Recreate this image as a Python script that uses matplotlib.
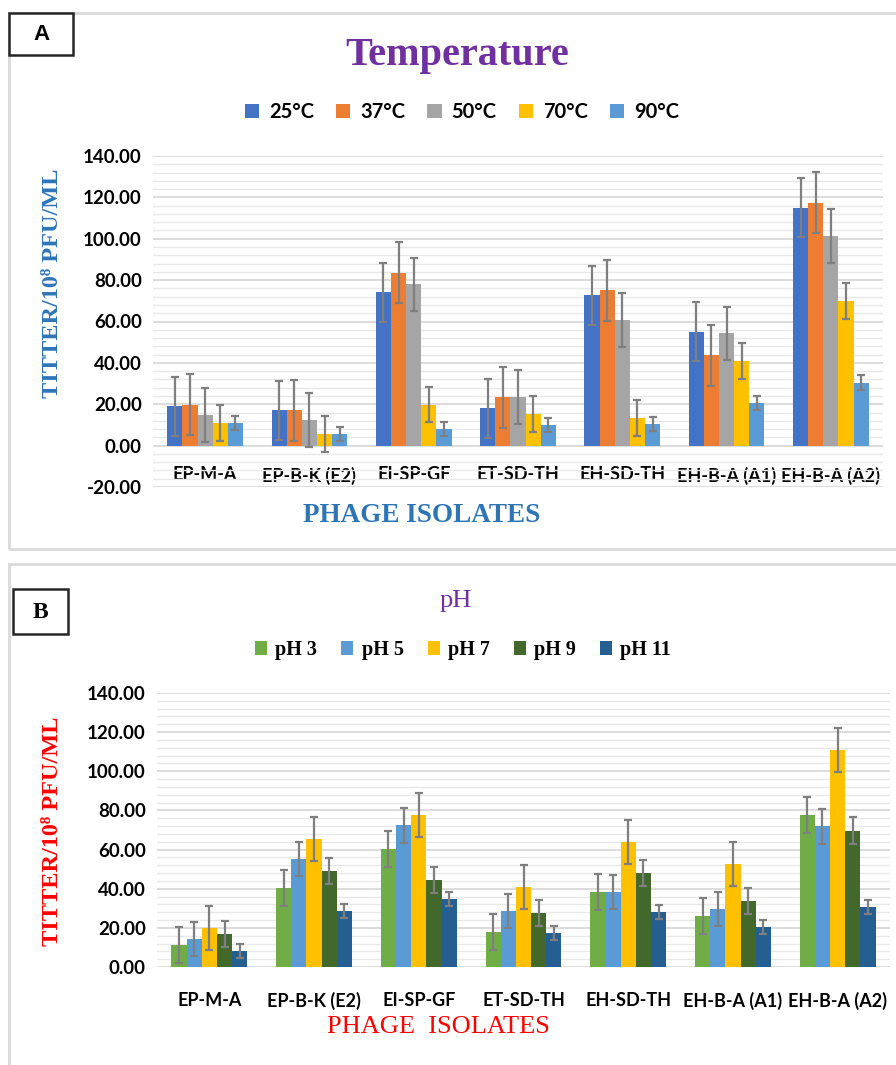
import numpy as np
from matplotlib import pyplot as plt
from matplotlib.ticker import MultipleLocator, FormatStrFormatter
from matplotlib.patches import Rectangle

# Data
isolates = ['EP-M-A', 'EP-B-K (E2)', 'EI-SP-GF', 'ET-SD-TH', 'EH-SD-TH', 'EH-B-A (A1)', 'EH-B-A (A2)']

temp_labels = ['25°C', '37°C', '50°C', '70°C', '90°C']
t25 = [19.0, 17.1, 74.2, 18.1, 72.7, 55.0, 115.0]
t37 = [19.8, 17.1, 83.5, 23.4, 75.0, 43.7, 117.4]
t50 = [14.7, 12.3, 77.9, 23.4, 60.8, 54.2, 101.3]
t70 = [11.0, 5.6, 19.8, 15.3, 13.4, 41.0, 69.8]
t90 = [11.0, 5.6, 8.1, 10.0, 10.5, 20.5, 30.5]
temp_err = [14.3, 14.7, 13.0, 8.6, 3.5]

ph_labels = ['pH 3', 'pH 5', 'pH 7', 'pH 9', 'pH 11']
ph3 = [11.1, 40.6, 60.5, 18.0, 38.1, 26.0, 77.6]
ph5 = [14.5, 55.1, 72.3, 28.7, 38.1, 29.6, 71.8]
ph7 = [19.9, 65.6, 77.6, 41.0, 63.9, 52.7, 110.7]
ph9 = [17.0, 49.1, 44.6, 27.6, 48.1, 33.7, 69.7]
ph11 = [8.0, 28.7, 34.7, 17.5, 28.1, 20.4, 30.6]
ph_err = [9.2, 8.7, 11.2, 6.7, 3.6]

temp_colors = ['#4472C4', '#ED7D31', '#A5A5A5', '#FFC000', '#5B9BD5']
ph_colors = ['#70AD47', '#5B9BD5', '#FFC000', '#43682B', '#255E91']

W, H = 896, 1065
fig = plt.figure(figsize=(W / 100, H / 100), dpi=100)


def fx(px):
    return px / W


def fy(py):
    return 1 - py / H


def bar_panel(ax, series, errs, colors, labels, ymin):
    x = np.arange(len(isolates))
    bw = 0.145
    handles = []
    for i, vals in enumerate(series):
        pos = x + (i - 2) * bw
        b = ax.bar(pos, vals, bw, color=colors[i], label=labels[i], zorder=3)
        ax.errorbar(pos, vals, yerr=errs[i], fmt='none', ecolor='#7F7F7F',
                    elinewidth=1.6, capsize=3, capthick=1.6, zorder=4)
        handles.append(b)
    ax.set_xlim(-0.5, len(isolates) - 0.5)
    ax.set_ylim(ymin, 140)
    ax.yaxis.set_major_locator(MultipleLocator(20))
    ax.yaxis.set_minor_locator(MultipleLocator(4))
    ax.yaxis.set_major_formatter(FormatStrFormatter('%.2f'))
    ax.grid(which='major', axis='y', color='#D9D9D9', lw=1.3, zorder=0)
    ax.grid(which='minor', axis='y', color='#E8E8E8', lw=1.0, zorder=0)
    for s in ax.spines.values():
        s.set_visible(False)
    ax.spines['bottom'].set_position(('data', 0))
    ax.set_xticks(x)
    ax.set_xticklabels(isolates, fontfamily='Lato', fontweight='bold', fontsize=13)
    ax.tick_params(axis='x', length=0, pad=15 if ymin < 0 else 18)
    ax.tick_params(axis='y', which='both', length=0, pad=8)
    for t in ax.get_yticklabels():
        t.set_fontfamily('Lato')
        t.set_fontweight('bold')
        t.set_fontsize(13.5)
    return handles


# Panel frames
fig.patches.append(Rectangle((fx(9), fy(549)), fx(900) - fx(9), fy(13) - fy(549),
                             transform=fig.transFigure, fill=False, ec='#D9D9D9', lw=2))
fig.patches.append(Rectangle((fx(9), fy(1075)), fx(900) - fx(9), fy(564) - fy(1075),
                             transform=fig.transFigure, fill=False, ec='#D9D9D9', lw=2))

# Panel A - temperature
axA = fig.add_axes([fx(153), fy(487), fx(883) - fx(153), fy(156) - fy(487)])
hA = bar_panel(axA, [t25, t37, t50, t70, t90], temp_err, temp_colors, temp_labels, -20)
fig.patches.append(Rectangle((fx(9), fy(55)), fx(73) - fx(9), fy(13) - fy(55),
                             transform=fig.transFigure, fill=True, fc='white', ec='#262626', lw=1.8))
fig.text(fx(41), fy(35), 'A', ha='center', va='center', fontsize=16, fontweight='bold',
         fontfamily='Liberation Sans')
fig.text(fx(457), fy(55), 'Temperature', ha='center', va='center', fontsize=29,
         fontweight='bold', fontfamily='Liberation Serif', color='#7030A0')
fig.legend(hA, temp_labels, loc='center', bbox_to_anchor=(fx(462), fy(112)), ncol=5,
           frameon=False, handlelength=0.7, handleheight=0.7, handletextpad=0.5,
           columnspacing=1.1, prop={'family': 'Lato', 'weight': 'bold', 'size': 14.5})
fig.text(fx(52), fy(283), 'TITTER/10⁸ PFU/ML', rotation=90, ha='center', va='center',
         fontsize=17.5, fontweight='bold', fontfamily='Liberation Serif', color='#2E75B6')
fig.text(fx(422), fy(516), 'PHAGE ISOLATES', ha='center', va='center', fontsize=19.5,
         fontweight='bold', fontfamily='Liberation Serif', color='#2E75B6')

# Panel B - pH
axB = fig.add_axes([fx(157), fy(967), fx(890) - fx(157), fy(693) - fy(967)])
hB = bar_panel(axB, [ph3, ph5, ph7, ph9, ph11], ph_err, ph_colors, ph_labels, 0)
fig.patches.append(Rectangle((fx(13), fy(634)), fx(68) - fx(13), fy(589) - fy(634),
                             transform=fig.transFigure, fill=True, fc='white', ec='#262626', lw=1.8))
fig.text(fx(40), fy(612), 'B', ha='center', va='center', fontsize=17, fontweight='bold',
         fontfamily='Liberation Serif')
fig.text(fx(456), fy(601), 'pH', ha='center', va='center', fontsize=19,
         fontfamily='Liberation Serif', color='#7030A0')
fig.legend(hB, ph_labels, loc='center', bbox_to_anchor=(fx(463), fy(650)), ncol=5,
           frameon=False, handlelength=0.6, handleheight=0.7, handletextpad=0.4,
           columnspacing=1.2, prop={'family': 'Liberation Serif', 'weight': 'bold', 'size': 14.5})
fig.text(fx(52), fy(831), 'TITTER/10⁸ PFU/ML', rotation=90, ha='center', va='center',
         fontsize=17.5, fontweight='bold', fontfamily='Liberation Serif', color='#FF0000')
fig.text(fx(438), fy(1027), 'PHAGE  ISOLATES', ha='center', va='center', fontsize=19,
         fontfamily='Liberation Serif', color='#FF0000')

fig.savefig('out.png', dpi=100)
